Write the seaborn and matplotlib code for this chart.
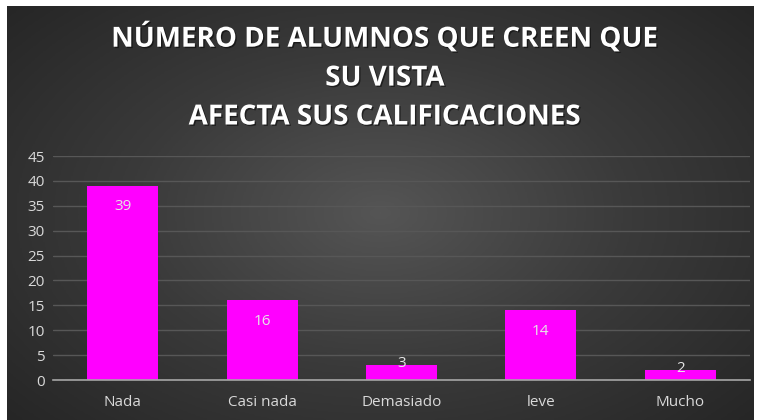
import pandas as pd
import seaborn as sns
import matplotlib.pyplot as plt
import matplotlib.patheffects as pe
from matplotlib.colors import LinearSegmentedColormap
import numpy as np

# data
categorias = ['Nada', 'Casi nada', 'Demasiado', 'leve', 'Mucho']
alumnos = [39, 16, 3, 14, 2]
titulo = 'NÚMERO DE ALUMNOS QUE CREEN QUE\nSU VISTA\nAFECTA SUS CALIFICACIONES'

df = pd.DataFrame({'categoria': categorias, 'alumnos': alumnos})

sns.set_style('dark')
plt.rcParams['font.family'] = ['Open Sans', 'DejaVu Sans']

fig = plt.figure(figsize=(7.62, 4.2), dpi=100, facecolor='white')

# radial gradient background (dark chart area with white margin top/left/right)
bg = fig.add_axes([7 / 762, 0, 747 / 762, 1 - 6 / 420])
yy, xx = np.mgrid[-1:1:300j, -1:1:500j]
r = np.clip(np.sqrt(xx ** 2 + (yy * 0.9) ** 2) / 1.35, 0, 1)
cmap = LinearSegmentedColormap.from_list('fondo', ['#555555', '#3a3a3a', '#262626'])
bg.imshow(r, cmap=cmap, vmin=0, vmax=1, aspect='auto', extent=[0, 1, 0, 1])
bg.set_axis_off()

ax = fig.add_axes([53 / 762, 40 / 420, 697 / 762, 224 / 420])
ax.patch.set_alpha(0)

sns.barplot(data=df, x='categoria', y='alumnos', color='#ff00ff', saturation=1, width=0.51,
            linewidth=0, edgecolor='none', ax=ax)

ax.set_ylim(0, 45)
ax.set_yticks(range(0, 50, 5))
ax.set_xlim(-0.5, 4.5)
ax.set_xlabel('')
ax.set_ylabel('')
ax.grid(axis='y', color='#575757', linewidth=1)
ax.grid(axis='x', visible=False)
ax.set_axisbelow(True)
for s in ['top', 'right', 'left']:
    ax.spines[s].set_visible(False)
ax.spines['bottom'].set_color('#a6a6a6')
ax.spines['bottom'].set_linewidth(1.2)
ax.tick_params(axis='both', colors='#d9d9d9', labelsize=11, length=0)
ax.tick_params(axis='x', pad=11)
ax.tick_params(axis='y', pad=6)

# data labels
for i, v in enumerate(alumnos):
    off = -15 if v >= 10 else -4
    ax.annotate(str(v), (i, v), xytext=(0, off), textcoords='offset points',
                ha='center', va='center' if v >= 10 else 'bottom', color='#e6e6e6', fontsize=11)

fig.text(0.505, 0.817, titulo, ha='center', va='center', color='white', fontsize=20,
         fontweight='bold', linespacing=1.45,
         path_effects=[pe.withSimplePatchShadow(offset=(1, -1), shadow_rgbFace='black', alpha=0.5)])

fig.savefig('out.png', dpi=100, facecolor=fig.get_facecolor())
